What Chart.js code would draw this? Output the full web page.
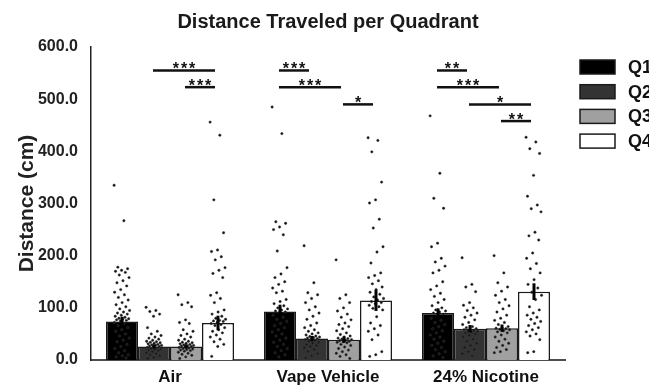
<!DOCTYPE html>
<html>
<head>
<meta charset="utf-8">
<script src="https://cdn.jsdelivr.net/npm/chart.js@4.4.1/dist/chart.umd.min.js"></script>
<style>
  html, body { margin: 0; padding: 0; background: #fff; overflow: hidden; }
  #wrap { width: 649px; height: 387px; }
</style>
</head>
<body>
<div id="wrap"><canvas id="quadChart"></canvas></div>
<script>
// categories and series
const categories = ['Air', 'Vape Vehicle', '24% Nicotine'];
const seriesNames = ['Q1', 'Q2', 'Q3', 'Q4'];
const seriesColors = ['#000000', '#333333', '#a0a0a0', '#ffffff'];

// bar means (cm) per category
const meanQ1 = [74, 93, 90];
const meanQ2 = [26, 41, 60];
const meanQ3 = [26, 39, 61];
const meanQ4 = [71, 114, 131];

// error bars (SEM)
const semQ1 = [9, 13, 9];
const semQ2 = [4, 5, 7];
const semQ3 = [4, 6, 7];
const semQ4 = [14, 20, 16];

// individual animals
const airQ1 = [335, 267, 178, 175, 172, 170, 168, 163, 158, 152, 148, 142, 135, 130, 125, 120, 115, 110, 106, 102, 98, 95, 92, 90, 88, 86, 84, 82, 80, 79, 78, 77, 76, 75, 72, 70, 66, 62, 58, 55, 50, 46, 42, 38, 35, 30, 26, 22, 18, 14, 10, 8, 6, 4];
const airQ2 = [101, 95, 93, 88, 84, 62, 55, 50, 47, 44, 42, 40, 38, 36, 35, 34, 33, 32, 31, 30, 29, 28, 28, 27, 26, 25, 24, 23, 22, 21, 20, 19, 18, 16, 14, 12, 10, 8, 5, 3];
const airQ3 = [125, 110, 106, 102, 77, 72, 70, 58, 55, 50, 47, 44, 40, 38, 36, 34, 33, 32, 31, 30, 29, 28, 27, 27, 26, 25, 24, 23, 22, 21, 20, 19, 18, 17, 15, 13, 11, 9, 6, 3];
const airQ4 = [456, 431, 307, 244, 211, 208, 198, 192, 177, 172, 166, 158, 129, 124, 118, 110, 96, 92, 88, 84, 80, 78, 76, 75, 74, 72, 70, 68, 66, 62, 58, 55, 52, 48, 44, 40, 35, 30, 26, 7];
const vapeQ1 = [485, 434, 265, 262, 255, 250, 240, 209, 177, 165, 158, 150, 145, 138, 132, 129, 116, 112, 108, 104, 100, 98, 96, 94, 92, 90, 86, 82, 78, 74, 70, 66, 62, 58, 54, 50, 46, 42, 38, 34, 30, 26, 22, 18, 14, 10, 6];
const vapeQ2 = [219, 148, 129, 125, 118, 110, 102, 96, 90, 84, 78, 71, 66, 62, 58, 55, 52, 50, 48, 46, 45, 44, 43, 42, 41, 40, 39, 38, 36, 34, 32, 30, 28, 26, 24, 20, 16, 12, 8, 4];
const vapeQ3 = [192, 125, 118, 110, 100, 94, 88, 82, 77, 71, 68, 64, 60, 56, 52, 49, 46, 44, 42, 41, 40, 39, 38, 37, 36, 35, 34, 33, 30, 28, 25, 22, 19, 16, 13, 10, 7, 3];
const vapeQ4 = [426, 421, 399, 341, 307, 301, 270, 253, 217, 207, 186, 167, 162, 158, 152, 146, 140, 135, 130, 126, 121, 118, 115, 112, 110, 108, 105, 102, 99, 96, 83, 71, 66, 60, 55, 48, 39, 16, 10, 7];
const nicQ1 = [468, 358, 310, 291, 224, 217, 195, 188, 180, 172, 167, 150, 142, 135, 128, 122, 116, 110, 104, 100, 96, 94, 92, 90, 88, 85, 80, 76, 72, 68, 64, 60, 56, 52, 48, 44, 40, 36, 32, 28, 24, 20, 16, 12, 8, 5];
const nicQ2 = [196, 145, 140, 131, 110, 105, 100, 95, 90, 86, 82, 77, 72, 68, 64, 62, 60, 59, 58, 57, 56, 55, 54, 52, 50, 47, 44, 40, 36, 32, 28, 24, 20, 16, 12, 8];
const nicQ3 = [200, 167, 148, 140, 132, 124, 116, 110, 104, 98, 92, 86, 80, 76, 72, 68, 64, 62, 61, 60, 59, 58, 56, 54, 52, 48, 44, 40, 36, 32, 28, 24, 20, 16, 14];
const nicQ4 = [427, 418, 405, 396, 354, 314, 297, 290, 284, 245, 238, 230, 205, 195, 185, 175, 167, 154, 145, 138, 130, 124, 116, 102, 96, 90, 86, 82, 78, 74, 70, 66, 62, 58, 54, 50, 46, 39, 16, 14];

// significance brackets: group, from bar, to bar, height (cm), label
const sigGroup = [0, 0, 1, 1, 1, 2, 2, 2, 2];
const sigFrom  = [1, 2, 0, 0, 2, 0, 0, 1, 2];
const sigTo    = [3, 3, 1, 2, 3, 1, 2, 3, 3];
const sigLevel = [555, 523, 555, 523, 490, 555, 523, 490, 458];
const sigText  = ['***', '***', '***', '***', '*', '**', '***', '*', '**'];

const means = [meanQ1, meanQ2, meanQ3, meanQ4];
const sems = [semQ1, semQ2, semQ3, semQ4];
const dots = [
  [airQ1, vapeQ1, nicQ1],
  [airQ2, vapeQ2, nicQ2],
  [airQ3, vapeQ3, nicQ3],
  [airQ4, vapeQ4, nicQ4]
];

const FONT = "'Liberation Sans', Arial, sans-serif";
const catPct = 0.81;

// centre of bar k inside a category, in category units
function barOffset(k) {
  return -catPct / 2 + (catPct / seriesNames.length) * (k + 0.5);
}
// spread points sideways so they don't sit on one line
function jitter(i) {
  return (((i * 0.6180339887) % 1) - 0.5) * 0.1;
}

const barSets = seriesNames.map((name, k) => ({
  label: name,
  data: means[k],
  backgroundColor: seriesColors[k],
  borderColor: '#1a1a1a',
  borderWidth: 1.5,
  categoryPercentage: catPct,
  barPercentage: 1.0
}));

// individual points on top of the bars
const dotPoints = {
  id: 'dotPoints',
  afterDatasetsDraw(chart) {
    const ctx = chart.ctx, x = chart.scales.x, y = chart.scales.y;
    ctx.save();
    ctx.fillStyle = '#111';
    ctx.strokeStyle = '#3a3a3a';
    ctx.lineWidth = 0.5;
    dots.forEach((byCat, k) => {
      byCat.forEach((vals, c) => {
        vals.forEach((v, i) => {
          const px = x.getPixelForValue(c + barOffset(k) + jitter(i));
          const py = y.getPixelForValue(v);
          ctx.beginPath();
          ctx.arc(px, py, 1.2, 0, Math.PI * 2);
          ctx.fill();
          ctx.stroke();
        });
      });
    });
    ctx.restore();
  }
};

const errorBars = {
  id: 'errorBars',
  afterDatasetsDraw(chart) {
    const ctx = chart.ctx, y = chart.scales.y;
    ctx.save();
    ctx.strokeStyle = '#000';
    ctx.lineWidth = 3;
    for (let k = 0; k < seriesNames.length; k++) {
      const meta = chart.getDatasetMeta(k);
      meta.data.forEach((bar, c) => {
        ctx.beginPath();
        ctx.moveTo(bar.x, y.getPixelForValue(means[k][c] - sems[k][c]));
        ctx.lineTo(bar.x, y.getPixelForValue(means[k][c] + sems[k][c]));
        ctx.stroke();
      });
    }
    ctx.restore();
  }
};

const sigBrackets = {
  id: 'sigBrackets',
  afterDatasetsDraw(chart) {
    const ctx = chart.ctx, y = chart.scales.y;
    ctx.save();
    ctx.strokeStyle = '#111';
    ctx.fillStyle = '#111';
    ctx.lineWidth = 2.5;
    ctx.font = 'bold 16px ' + FONT;
    ctx.letterSpacing = '2px';
    ctx.textAlign = 'center';
    ctx.textBaseline = 'alphabetic';
    sigGroup.forEach((g, s) => {
      const x1 = chart.getDatasetMeta(sigFrom[s]).data[g].x - 1;
      const x2 = chart.getDatasetMeta(sigTo[s]).data[g].x - 3;
      const py = y.getPixelForValue(sigLevel[s]);
      ctx.beginPath();
      ctx.moveTo(x1, py);
      ctx.lineTo(x2, py);
      ctx.stroke();
      ctx.fillText(sigText[s], (x1 + x2) / 2 + 1, py + 3.5);
    });
    ctx.restore();
  }
};

// legend on the right, runs off the edge like the original
const sideLegend = {
  id: 'sideLegend',
  afterDraw(chart) {
    const ctx = chart.ctx, area = chart.chartArea;
    ctx.save();
    ctx.font = 'bold 18px ' + FONT;
    ctx.textBaseline = 'middle';
    seriesNames.forEach((name, k) => {
      const bx = area.right + 15, cy = area.top + 20 + k * 24.7;
      ctx.fillStyle = seriesColors[k];
      ctx.fillRect(bx, cy - 7, 35, 14);
      ctx.strokeStyle = '#1a1a1a';
      ctx.lineWidth = 1.5;
      ctx.strokeRect(bx, cy - 7, 35, 14);
      ctx.fillStyle = '#111';
      ctx.fillText(name, bx + 48, cy + 1);
    });
    ctx.restore();
  }
};

new Chart(document.getElementById('quadChart').getContext('2d'), {
  type: 'bar',
  data: {
    labels: categories,
    datasets: barSets
  },
  options: {
    responsive: true,
    maintainAspectRatio: false,
    animation: false,
    layout: { padding: { top: 0, right: 84, bottom: 0, left: 0 } },
    plugins: {
      legend: { display: false },
      tooltip: { enabled: false },
      title: {
        display: true,
        text: 'Distance Traveled per Quadrant',
        fullSize: false,
        color: '#1a1a1a',
        font: { family: FONT, size: 20, weight: 'bold', lineHeight: 1.2 },
        padding: { top: 10, bottom: 13 }
      }
    },
    scales: {
      x: {
        offset: true,
        grid: { display: false, drawTicks: false },
        border: { color: '#4d4d4d', width: 2 },
        ticks: { color: '#111', padding: 7, font: { family: FONT, size: 17, weight: 'bold' } },
        afterFit(s) { s.height = 27; }
      },
      y: {
        min: 0,
        max: 600,
        grid: { display: false, drawTicks: false },
        border: { color: '#222', width: 1.5 },
        ticks: {
          stepSize: 100,
          padding: 13,
          color: '#222',
          font: { family: FONT, size: 16, weight: 'bold' },
          callback: v => v.toFixed(1)
        },
        title: {
          display: true,
          text: 'Distance (cm)',
          color: '#222',
          font: { family: FONT, size: 21, weight: 'bold', lineHeight: 1.2 },
          padding: { top: 15, bottom: 0 }
        },
        afterFit(s) { s.width = 91; }
      }
    }
  },
  plugins: [dotPoints, errorBars, sigBrackets, sideLegend]
});
</script>
</body>
</html>
